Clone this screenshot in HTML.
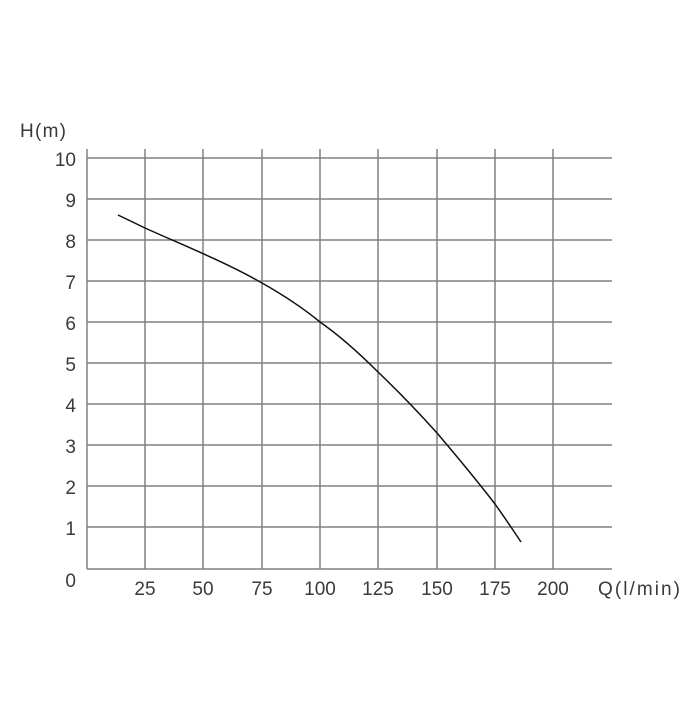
<!DOCTYPE html>
<html><head><style>body{margin:0;background:#fff}</style></head><body>
<svg width="700" height="700" xmlns="http://www.w3.org/2000/svg" font-family="Liberation Sans, sans-serif" font-size="19" fill="#3a3a3a">
<g stroke="#808080" stroke-width="1.5">
<line x1="87" y1="149" x2="87" y2="569"/>
<line x1="145" y1="149" x2="145" y2="569"/>
<line x1="203" y1="149" x2="203" y2="569"/>
<line x1="262" y1="149" x2="262" y2="569"/>
<line x1="320" y1="149" x2="320" y2="569"/>
<line x1="378" y1="149" x2="378" y2="569"/>
<line x1="437" y1="149" x2="437" y2="569"/>
<line x1="495" y1="149" x2="495" y2="569"/>
<line x1="553" y1="149" x2="553" y2="569"/>
<line x1="87" y1="158" x2="612" y2="158"/>
<line x1="87" y1="199" x2="612" y2="199"/>
<line x1="87" y1="240" x2="612" y2="240"/>
<line x1="87" y1="281" x2="612" y2="281"/>
<line x1="87" y1="322" x2="612" y2="322"/>
<line x1="87" y1="363" x2="612" y2="363"/>
<line x1="87" y1="404" x2="612" y2="404"/>
<line x1="87" y1="445" x2="612" y2="445"/>
<line x1="87" y1="486" x2="612" y2="486"/>
<line x1="87" y1="527" x2="612" y2="527"/>
<line x1="87" y1="569" x2="612" y2="569"/>
</g>
<path d="M118,215 L145,228 C185,246 225,262 262,283 C285,296 303,308 320,322 C340,336 360,354 378,372 C400,393 420,414 437,433 C460,460 478,482 495,504 C505,518 513,530 521,542" fill="none" stroke="#111" stroke-width="1.5"/>
<g text-anchor="end">
<text x="76" y="166">10</text><text x="76" y="207">9</text><text x="76" y="248">8</text><text x="76" y="289">7</text><text x="76" y="330">6</text><text x="76" y="371">5</text><text x="76" y="412">4</text><text x="76" y="453">3</text><text x="76" y="494">2</text><text x="76" y="535">1</text><text x="76" y="587">0</text>
</g>
<g text-anchor="middle">
<text x="145" y="595">25</text><text x="203" y="595">50</text><text x="262" y="595">75</text><text x="320" y="595">100</text><text x="378" y="595">125</text><text x="437" y="595">150</text><text x="495" y="595">175</text><text x="553" y="595">200</text>
</g>
<text x="598" y="595" textLength="82">Q(l/min)</text>
<text x="20" y="137" textLength="46">H(m)</text>
</svg>
</body></html>
